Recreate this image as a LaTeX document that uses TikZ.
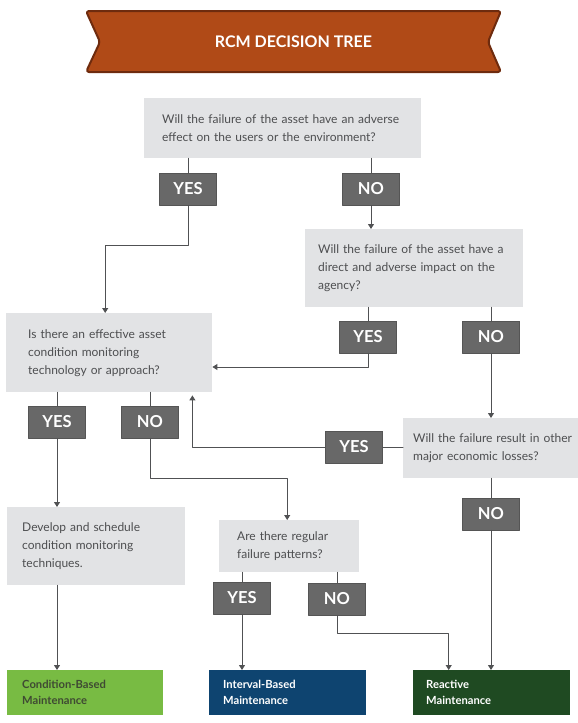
\documentclass[tikz,border=0pt]{standalone}
\usepackage{fontspec}
\setmainfont{Lato}
\usetikzlibrary{arrows.meta, positioning, calc}

\definecolor{bannerfill}{HTML}{B04A17}
\definecolor{banneredge}{HTML}{6E2B0E}
\definecolor{boxgrey}{HTML}{E2E3E5}
\definecolor{qtext}{HTML}{4D4E50}
\definecolor{tagfill}{HTML}{686868}
\definecolor{tagedge}{HTML}{555555}
\definecolor{linegrey}{HTML}{505153}
\definecolor{cbmgreen}{HTML}{78BB43}
\definecolor{cbmtext}{HTML}{3F4A33}
\definecolor{ibmblue}{HTML}{0E4470}
\definecolor{reactgreen}{HTML}{1F4A22}

\begin{document}
\begin{tikzpicture}[x=1pt, y=-1pt, >={Triangle[width=6pt,length=5pt]}, line cap=round, line join=round]
    % Styles
    \tikzset{
        question/.style={rectangle, fill=boxgrey, text=qtext, font=\fontsize{12}{18}\selectfont, align=left, anchor=north west, inner ysep=0pt},
        answer/.style={rectangle, fill=tagfill, draw=tagedge, line width=0.6pt, text=white, font=\fontsize{16.5}{16.5}\selectfont\bfseries, minimum width=57pt, minimum height=32pt, inner sep=0pt},
        outcome/.style={rectangle, font=\fontsize{11.2}{16}\selectfont\bfseries, align=left, anchor=north west, inner ysep=0pt, minimum height=45pt},
        link/.style={line width=1pt, linegrey},
        flow/.style={link, ->}
    }

    % Frame of the picture (pixel grid, y down)
    \useasboundingbox (0,0) rectangle (578,723);

    % --- Banner ---
    \draw[fill=bannerfill, draw=banneredge, line width=2pt, rounded corners=3pt]
        (86,11) -- (501,11) -- (488,42) -- (501,72) -- (86,72) -- (100,42) -- cycle;
    \node[text=white, font=\fontsize{16}{16}\selectfont\bfseries] (title) at (293.5,42) {RCM DECISION TREE};

    % --- Questions ---
    \node[question, text width=241pt, inner xsep=18pt, minimum height=60pt] (q_effect) at (144,98)
        {Will the failure of the asset have an adverse\\effect on the users or the environment?};
    \node[question, text width=192pt, inner xsep=13pt, minimum height=78pt] (q_agency) at (305,229)
        {Will the failure of the asset have a\\direct and adverse impact on the\\agency?};
    \node[question, text width=162pt, inner xsep=22pt, minimum height=79pt] (q_monitor) at (6,313)
        {Is there an effective asset\\condition monitoring\\technology or approach?};
    \node[question, text width=164pt, inner xsep=10pt, minimum height=60pt] (q_losses) at (403,418)
        {Will the failure result in other\\major economic losses?};
    \node[question, text width=148pt, inner xsep=15pt, minimum height=78pt] (develop) at (7,507)
        {Develop and schedule\\condition monitoring\\techniques.};
    \node[question, text width=104pt, inner xsep=18pt, minimum height=52pt] (q_pattern) at (219,520)
        {Are there regular\\failure patterns?};

    % --- Answers ---
    \node[answer] (yes_effect) at (188,189) {YES};
    \node[answer] (no_effect) at (371,189) {NO};
    \node[answer] (yes_agency) at (368,337) {YES};
    \node[answer] (no_agency) at (491,337) {NO};
    \node[answer] (yes_monitor) at (57,422) {YES};
    \node[answer] (no_monitor) at (150,422) {NO};
    \node[answer] (yes_losses) at (354,447) {YES};
    \node[answer] (no_losses) at (491,514) {NO};
    \node[answer] (yes_pattern) at (242,598) {YES};
    \node[answer] (no_pattern) at (337,599) {NO};

    % --- Outcomes ---
    \node[outcome, fill=cbmgreen, text=cbmtext, text width=126pt, inner xsep=15pt] (cbm) at (7,670)
        {Condition-Based\\Maintenance};
    \node[outcome, fill=ibmblue, text=white, text width=129pt, inner xsep=14pt] (ibm) at (209,670)
        {Interval-Based\\Maintenance};
    \node[outcome, fill=reactgreen, text=white, text width=131pt, inner xsep=13pt] (reactive) at (413,670)
        {Reactive\\Maintenance};

    % --- Connectors ---
    % first question
    \draw[link] (yes_effect.north) -- (yes_effect.north |- q_effect.south);
    \draw[link] (no_effect.north) -- (no_effect.north |- q_effect.south);
    \draw[flow] (yes_effect.south) -- ++(0,40) -| ([xshift=-4pt]q_monitor.north);
    \draw[flow] (no_effect.south) -- (no_effect.south |- q_agency.north);

    % agency question
    \draw[link] (yes_agency.north) -- (yes_agency.north |- q_agency.south);
    \draw[link] (no_agency.north) -- (no_agency.north |- q_agency.south);
    \draw[flow] (yes_agency.south) |- (q_monitor.east |- 0,367);
    \draw[flow] (no_agency.south) -- (no_agency.south |- q_losses.north);

    % losses question
    \draw[link] (yes_losses.east) -- (yes_losses.east -| q_losses.west);
    \draw[flow] (yes_losses.west) -| ([xshift=-20pt, yshift=-3pt]q_monitor.south east);
    \draw[link] (no_losses.north) -- (no_losses.north |- q_losses.south);
    \draw[flow] (no_losses.south) -- (no_losses.south |- reactive.north);

    % monitoring question
    \draw[link] (yes_monitor.north) -- (yes_monitor.north |- q_monitor.south);
    \draw[link] (no_monitor.north) -- (no_monitor.north |- q_monitor.south);
    \draw[flow] (yes_monitor.south) -- (yes_monitor.south |- develop.north);
    \draw[flow] (no_monitor.south) -- ++(0,40) -| ([xshift=-2pt]q_pattern.north);
    \draw[flow] (yes_monitor.south |- develop.south) -- (yes_monitor.south |- cbm.north);

    % pattern question
    \draw[link] (yes_pattern.north) -- (yes_pattern.north |- q_pattern.south);
    \draw[link] (no_pattern.north) -- (no_pattern.north |- q_pattern.south);
    \draw[flow] (yes_pattern.south) -- (yes_pattern.south |- ibm.north);
    \draw[flow] (no_pattern.south) -- ++(0,18) -| ([xshift=-43pt]reactive.north);

\end{tikzpicture}
\end{document}
